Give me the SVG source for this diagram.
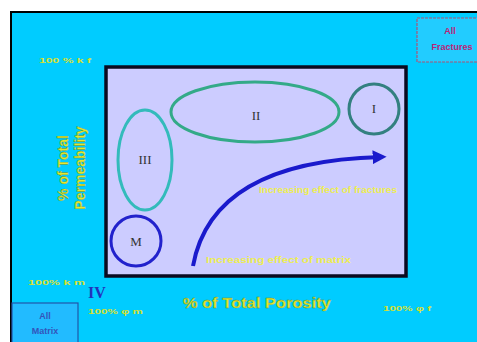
<svg xmlns="http://www.w3.org/2000/svg" width="477" height="342" viewBox="0 0 477 342">
<defs>
<style>
.lbl{font-family:"Liberation Sans",Arial,sans-serif;font-weight:bold;fill:#e4e830;stroke:#6a8a20;stroke-width:0.3;}
.sm{font-family:"Liberation Sans",Arial,sans-serif;font-weight:bold;font-size:8px;fill:#d8e030;}
.in{font-family:"Liberation Sans",Arial,sans-serif;font-weight:bold;font-size:9px;fill:#eeee50;}
.rom{font-family:"Liberation Serif","Times New Roman",serif;font-size:13px;fill:#333;text-anchor:middle;}
.box{font-family:"Liberation Sans",Arial,sans-serif;font-weight:bold;font-size:9px;text-anchor:middle;}
</style>
<marker id="ah" viewBox="0 0 10 10" refX="6" refY="5" markerWidth="3.5" markerHeight="3.5" orient="auto">
<path d="M0,0 L10,5 L0,10 z" fill="#1a1acc"/>
</marker>
</defs>
<rect x="0" y="0" width="477" height="342" fill="#ffffff"/>
<rect x="11" y="12" width="470" height="334" fill="#00ccff" stroke="#000" stroke-width="2"/>
<g id="plot">
<rect x="106" y="67" width="300" height="209" fill="#ccccff" stroke="#0a0a20" stroke-width="3.5"/>
</g>
<g id="node-II">
<ellipse cx="255" cy="112" rx="84" ry="30" fill="none" stroke="#33aa88" stroke-width="3"/>
<text class="rom" x="256" y="120">II</text>
</g>
<g id="node-I">
<circle cx="374" cy="109" r="25" fill="none" stroke="#338080" stroke-width="3"/>
<text class="rom" x="374" y="113">I</text>
</g>
<g id="node-III">
<ellipse cx="145" cy="160" rx="27" ry="50" fill="none" stroke="#33bbbb" stroke-width="3"/>
<text class="rom" x="145" y="164">III</text>
</g>
<g id="node-M">
<circle cx="136" cy="241" r="25" fill="none" stroke="#2222cc" stroke-width="3"/>
<text class="rom" x="136" y="246">M</text>
</g>
<g id="connectors">
<path d="M193,266 C205,200 262,160 381,157" fill="none" stroke="#1a1acc" stroke-width="4" marker-end="url(#ah)"/>
</g>
<text class="in" x="259" y="193" textLength="138" lengthAdjust="spacingAndGlyphs">Increasing effect of fractures</text>
<text class="in" x="206" y="263" textLength="145" lengthAdjust="spacingAndGlyphs">Increasing effect of matrix</text>
<text class="lbl" x="183" y="308" font-size="14" textLength="148" lengthAdjust="spacingAndGlyphs">% of Total Porosity</text>
<g transform="translate(68,168) rotate(-90)">
<text class="lbl" x="0" y="0" font-size="14" text-anchor="middle">% of Total</text>
<text class="lbl" x="0" y="17" font-size="14" text-anchor="middle">Permeability</text>
</g>
<text class="sm" x="39" y="63" textLength="52" lengthAdjust="spacingAndGlyphs">100 % k f</text>
<text class="sm" x="28" y="285" textLength="57" lengthAdjust="spacingAndGlyphs">100% k m</text>
<text class="sm" x="88" y="314" textLength="55" lengthAdjust="spacingAndGlyphs">100% φ m</text>
<text class="sm" x="383" y="311" textLength="48" lengthAdjust="spacingAndGlyphs">100% φ f</text>
<text x="88" y="298" font-family="'Liberation Serif','Times New Roman',serif" font-weight="bold" font-size="16" fill="#2233bb">IV</text>
<g id="all-matrix">
<rect x="12" y="303" width="66" height="42" fill="#22bbff" stroke="#2255aa" stroke-width="1.2"/>
<text class="box" x="45" y="319" fill="#3355bb">All</text>
<text class="box" x="45" y="334" fill="#3355bb">Matrix</text>
</g>
<g id="all-fractures">
<rect x="417" y="18" width="66" height="44" fill="#22ccff" stroke="#aa5577" stroke-width="1.2" stroke-dasharray="3,1"/>
<text class="box" x="450" y="34" fill="#bb2277">All</text>
<text class="box" x="452" y="50" fill="#bb2277">Fractures</text>
</g>
</svg>
